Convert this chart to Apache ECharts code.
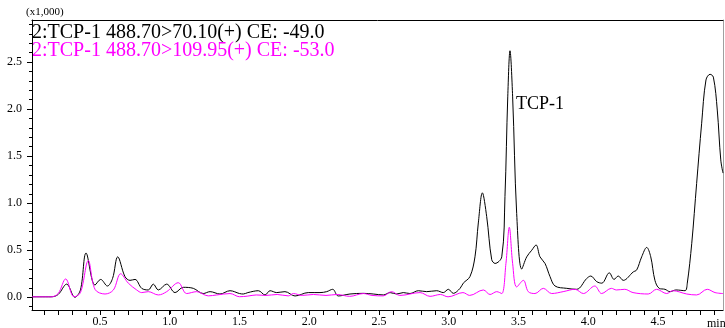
<!DOCTYPE html>
<html>
<head>
<meta charset="utf-8">
<script src="https://cdn.jsdelivr.net/npm/echarts@6/dist/echarts.min.js"></script>
<style>
  html, body { margin: 0; padding: 0; background: #fff; }
  #chart { width: 725px; height: 328px; }
</style>
</head>
<body>
<div id="chart"></div>
<script>
// retention time (min) and intensity (x1,000)
const blackTime = [
  0.0125, 0.15, 0.20, 0.261, 0.32, 0.36, 0.40, 0.464, 0.505, 0.553, 0.59, 0.627,
  0.679, 0.715, 0.751, 0.799, 0.846, 0.882, 0.918, 0.978, 1.038, 1.097, 1.169,
  1.24, 1.289, 1.36, 1.432, 1.50, 1.527, 1.56, 1.635, 1.683, 1.719, 1.767, 1.826,
  1.898, 1.993, 2.077, 2.125, 2.168, 2.208, 2.292, 2.388, 2.459, 2.531, 2.579,
  2.627, 2.674, 2.722, 2.782, 2.842, 2.914, 2.961, 2.997, 3.033, 3.081, 3.104,
  3.152, 3.188, 3.212, 3.241, 3.272, 3.308, 3.332, 3.380, 3.403, 3.423, 3.439,
  3.458, 3.487, 3.523, 3.559, 3.595, 3.626, 3.654, 3.690, 3.726, 3.762, 3.846,
  3.917, 3.989, 4.018, 4.061, 4.097, 4.151, 4.185, 4.215, 4.251, 4.323, 4.347,
  4.383, 4.419, 4.448, 4.478, 4.509, 4.55, 4.586, 4.629, 4.694, 4.71, 4.742,
  4.777, 4.813, 4.844, 4.873, 4.897, 4.925, 4.95, 4.966
];
const blackValue = [
  0.005, 0.005, 0.03, 0.14, 0.0, 0.08, 0.47, 0.13, 0.19, 0.12, 0.2, 0.43,
  0.22, 0.18, 0.19, 0.095, 0.078, 0.14, 0.078, 0.14, 0.05, 0.106, 0.095,
  0.04, 0.06, 0.035, 0.07, 0.04, 0.035, 0.05, 0.07, 0.025, 0.07, 0.05, 0.06,
  0.014, 0.05, 0.05, 0.06, 0.085, 0.014, 0.035, 0.042, 0.035, 0.025, 0.05,
  0.035, 0.05, 0.04, 0.07, 0.06, 0.07, 0.05, 0.085, 0.042, 0.095, 0.15,
  0.22, 0.43, 0.79, 1.11, 0.857, 0.40, 0.36, 0.43, 1.07, 2.13, 2.62,
  2.13, 0.89, 0.30, 0.43, 0.50, 0.556, 0.43, 0.36, 0.22, 0.12, 0.095,
  0.085, 0.20, 0.226, 0.166, 0.15, 0.26, 0.19, 0.226, 0.18, 0.27, 0.29,
  0.43, 0.53, 0.43, 0.18, 0.095, 0.085, 0.06, 0.078, 0.07, 0.15, 0.574,
  1.21, 1.85, 2.31, 2.37, 2.34, 1.99, 1.46, 1.32
];
const pinkTime = [
  0.0125, 0.15, 0.20, 0.254, 0.314, 0.36, 0.416, 0.464, 0.536, 0.596, 0.648,
  0.703, 0.763, 0.799, 0.846, 0.918, 0.978, 1.061, 1.121, 1.193, 1.276, 1.337,
  1.432, 1.50, 1.56, 1.62, 1.69, 1.77, 1.85, 1.886, 1.95, 2.03, 2.12, 2.2, 2.29,
  2.388, 2.45, 2.53, 2.59, 2.65, 2.794, 2.866, 2.94, 2.995, 3.102, 3.15, 3.248,
  3.296, 3.344, 3.38, 3.41, 3.434, 3.458, 3.487, 3.535, 3.57, 3.618, 3.678,
  3.738, 3.82, 3.905, 3.965, 4.047, 4.096, 4.166, 4.202, 4.262, 4.321, 4.43,
  4.49, 4.562, 4.607, 4.706, 4.777, 4.853, 4.909, 4.966
];
const pinkValue = [
  0.005, 0.005, 0.04, 0.195, 0.005, 0.05, 0.39, 0.085, 0.035, 0.078, 0.25,
  0.15, 0.078, 0.05, 0.06, 0.025, 0.06, 0.155, 0.04, 0.06, 0.015, 0.025,
  0.04, 0.006, 0.013, 0.025, 0.02, 0.03, 0.015, 0.04, 0.02, 0.03, 0.02, 0.03, 0.01,
  0.04, 0.02, 0.015, 0.06, 0.02, 0.05, 0.01, 0.03, 0.005, 0.05, 0.02, 0.078,
  0.03, 0.06, 0.04, 0.36, 0.744, 0.36, 0.11, 0.18, 0.06, 0.04, 0.095,
  0.04, 0.06, 0.085, 0.04, 0.12, 0.04, 0.095, 0.078, 0.085, 0.05, 0.035,
  0.085, 0.04, 0.07, 0.035, 0.025, 0.085, 0.05, 0.04
];

const traceNames = [
  "2:TCP-1 488.70>70.10(+) CE: -49.0",
  "2:TCP-1 488.70>109.95(+) CE: -53.0"
];
const peakLabel = "TCP-1";

const serif = "Liberation Serif";
const chart = echarts.init(document.getElementById("chart"));

const zip = (xs, ys) => xs.map((x, i) => [x, ys[i]]);
const peakIdx = blackValue.indexOf(Math.max(...blackValue.slice(0, 90)));

// axis line only (frame of the plot)
const frameAxis = (extra, color) => Object.assign({
  type: "value",
  axisLine: { show: true, onZero: false, lineStyle: { color: color || "#000", width: 1 } },
  axisTick: { show: false }, axisLabel: { show: false }, splitLine: { show: false }
}, extra);

// tick strip: split lines of a thin grid act as the tick marks
const tickAxis = (extra, label) => Object.assign({
  type: "value",
  axisLine: { show: false, onZero: false },
  axisTick: { show: false },
  splitLine: { show: true, showMinLine: true, showMaxLine: true,
               lineStyle: { color: "#000", width: 1 } },
  axisLabel: label ? {
    show: true, color: "#000", fontFamily: serif, fontSize: 12, margin: label,
    formatter: (v) => v.toFixed(1)
  } : { show: false }
}, extra);

const hidden = (gridIndex) => ({ type: "value", gridIndex, show: false });

chart.setOption({
  animation: false,
  backgroundColor: "#fff",
  grid: [
    { left: 32, right: 2, top: 20, bottom: 18 },            // data
    { left: 44.2, right: 11.2, top: 310, height: 5 },       // x minor ticks
    { left: 100, right: 67, top: 310, height: 8 },          // x major ticks + labels
    { left: 29, width: 3, top: 24.4, bottom: 21.3 },        // y minor ticks
    { left: 27, width: 5, top: 62.05, bottom: 30.7 }        // y major ticks + labels
  ],
  xAxis: [
    frameAxis({ gridIndex: 0, min: 0.0125, max: 4.966 }),
    frameAxis({ gridIndex: 0, position: "top", min: 0.0125, max: 4.966 }),
    tickAxis({ gridIndex: 1, min: 0.1, max: 4.9, interval: 0.1 }),
    tickAxis({ gridIndex: 2, min: 0.5, max: 4.5, interval: 0.5 }, 2),
    hidden(3),
    hidden(4)
  ],
  yAxis: [
    frameAxis({ gridIndex: 0, min: -0.135, max: 2.947 }),
    frameAxis({ gridIndex: 0, position: "right", min: -0.135, max: 2.947 }, "#a0a0a0"),
    hidden(1),
    hidden(2),
    tickAxis({ gridIndex: 3, min: -0.1, max: 2.9, interval: 0.1 }),
    tickAxis({ gridIndex: 4, min: 0, max: 2.5, interval: 0.5 }, 5)
  ],
  series: [
    {
      type: "line", name: traceNames[0], xAxisIndex: 0, yAxisIndex: 0,
      data: zip(blackTime, blackValue), smooth: 0.35, symbol: "none",
      lineStyle: { color: "#000", width: 1 },
      markPoint: {
        symbol: "circle", symbolSize: 0, silent: true,
        label: {
          show: true, position: "right", distance: 6, offset: [0, 53],
          formatter: peakLabel, color: "#000", fontFamily: serif, fontSize: 18
        },
        data: [{ coord: [blackTime[peakIdx], blackValue[peakIdx]] }]
      }
    },
    {
      type: "line", name: traceNames[1], xAxisIndex: 0, yAxisIndex: 0,
      data: zip(pinkTime, pinkValue), smooth: 0.35, symbol: "none",
      lineStyle: { color: "#ff00ff", width: 1 }
    }
  ],
  graphic: [
    { type: "text", left: 26, top: 7,
      style: { text: "(x1,000)", font: "11px " + serif, fill: "#000" } },
    { type: "text", left: 32, top: 23,
      style: { text: traceNames[0], font: "20px " + serif, fill: "#000" } },
    { type: "text", left: 32, top: 41,
      style: { text: traceNames[1], font: "20px " + serif, fill: "#ff00ff" } },
    { type: "text", left: 707, top: 318,
      style: { text: "min", font: "12px " + serif, fill: "#000" } }
  ]
});
</script>
</body>
</html>
